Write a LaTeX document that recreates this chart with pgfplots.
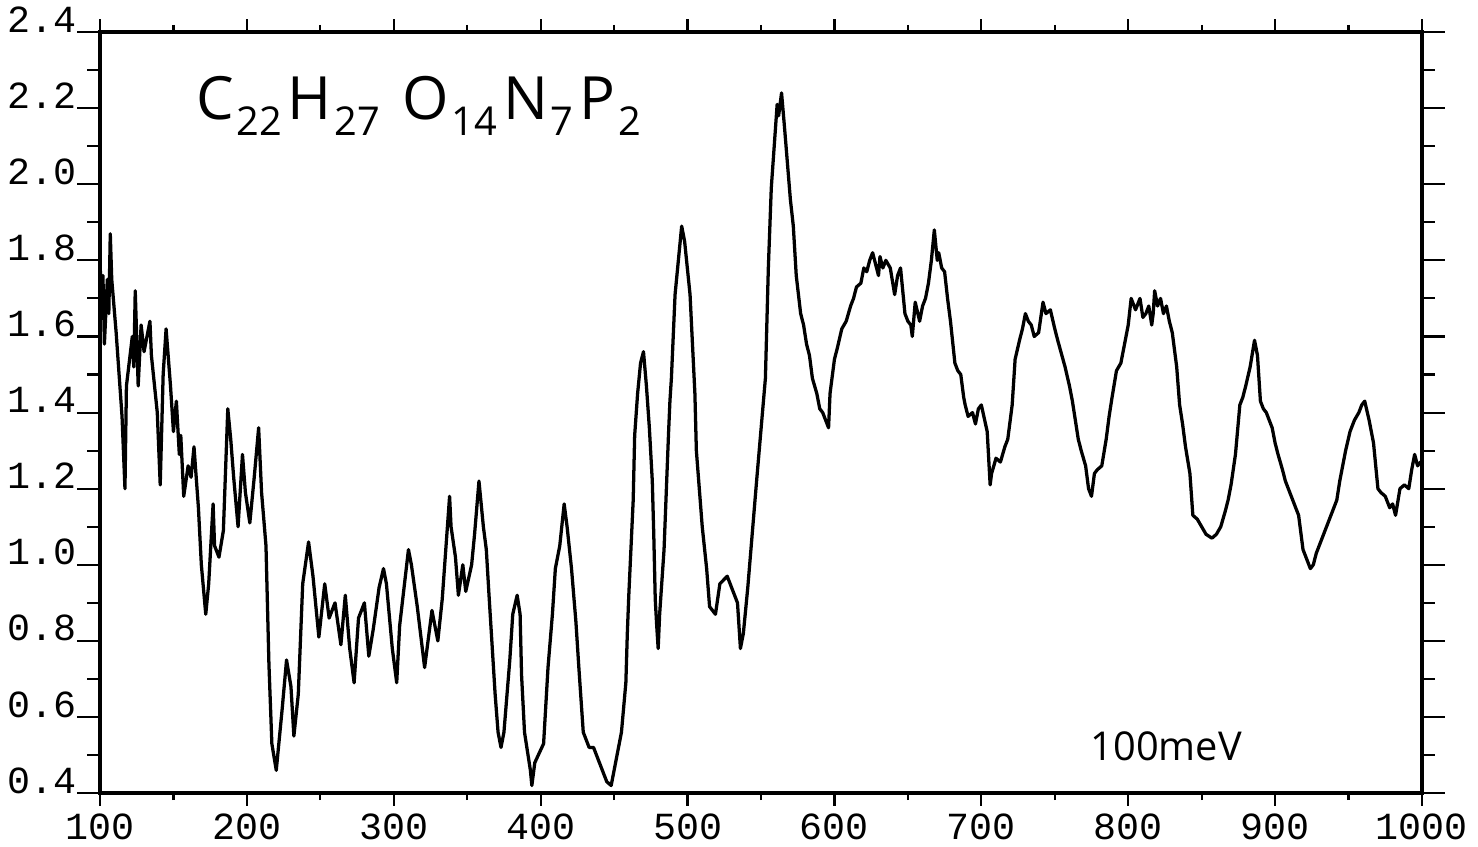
\documentclass[border=0pt]{standalone}
\usepackage{fontspec}
\setmainfont{Open Sans}
\setmonofont{Liberation Mono}
\usepackage{pgfplots}
\pgfplotsset{compat=1.18}
\newcommand{\sub}[1]{\raisebox{-0.5ex}{\fontsize{14}{14}\selectfont #1}}
\pgfplotsset{base/.style={scale only axis, width=465.5pt, height=268pt,
  xmin=100, xmax=1000, ymin=0.4, ymax=2.4, tick align=outside,
  every tick/.style={black, line width=0.75pt},
  ticklabel style={font=\ttfamily\fontsize{13.5}{16}\selectfont}}}
\begin{document}
\begin{tikzpicture}
\begin{axis}[base, name=ax,
  xtick=\empty,
  ytick={0.4,0.6,0.8,1.0,1.2,1.4,1.6,1.8,2.0,2.2,2.4},
  yticklabels={0.4,0.6,0.8,1.0,1.2,1.4,1.6,1.8,2.0,2.2,2.4},
  minor ytick={0.5,0.7,0.9,1.1,1.3,1.5,1.7,1.9,2.1,2.3},
  major tick length=8pt, minor tick length=4.5pt,
  axis line style={line width=1.2pt},
  yticklabel style={anchor=base east, inner sep=0pt},
]
\addplot[black, line width=1.15pt, line join=round] coordinates {
(100,1.80)(101,1.69)(102,1.76)(103,1.58)(105,1.75)(106,1.66)(107,1.87)(108,1.75)(111,1.61)(115,1.39)(117,1.20)(118,1.47)
(122,1.60)(123,1.52)(124,1.72)(126,1.47)(128,1.63)(130,1.56)(132,1.60)(134,1.64)(135,1.55)(139,1.40)(141,1.21)(143,1.50)
(145,1.62)(148,1.47)(150,1.35)(152,1.43)(154,1.29)(155,1.34)(157,1.18)(160,1.26)(162,1.23)(164,1.31)(167,1.15)
(169,1.00)(172,0.87)(174,0.95)(177,1.16)(178,1.05)(181,1.02)(184,1.09)(187,1.41)(189,1.33)(191,1.23)
(194,1.10)(197,1.29)(199,1.19)(202,1.11)(205,1.23)(208,1.36)(210,1.19)(213,1.05)(215,0.74)(217,0.53)
(220,0.46)(224,0.62)(227,0.75)(230,0.68)(232,0.55)(235,0.66)(238,0.95)(242,1.06)(245,0.97)(249,0.81)
(253,0.95)(256,0.86)(260,0.90)(264,0.79)(267,0.92)(270,0.78)(273,0.69)(276,0.86)(280,0.90)(283,0.76)
(286,0.83)(290,0.94)(293,0.99)(295,0.95)(299,0.78)(302,0.69)(304,0.84)(310,1.04)(312,1.00)(316,0.89)
(321,0.73)(326,0.88)(330,0.80)(333,0.91)(338,1.18)(339,1.10)(342,1.02)(344,0.92)(347,1.00)(349,0.93)
(353,1.00)(355,1.08)(358,1.22)(361,1.10)(363,1.04)(365,0.91)(369,0.66)(371,0.56)(373,0.52)(375,0.56)
(379,0.75)(381,0.87)(384,0.92)(386,0.87)(387,0.71)(389,0.56)(393,0.46)(394,0.42)(396,0.48)(402,0.53)
(405,0.73)(408,0.87)(410,0.99)(413,1.05)(416,1.16)(418,1.10)(421,0.99)(424,0.85)(426,0.73)(429,0.56)
(433,0.52)(436,0.52)(439,0.49)(442,0.46)(445,0.43)(448,0.42)(451,0.48)(455,0.56)(458,0.69)(459,0.82)
(460,0.92)(463,1.17)(464,1.34)(466,1.45)(468,1.53)(470,1.56)(472,1.47)(474,1.36)(476,1.22)(477,1.08)
(478,0.91)(479,0.84)(480,0.78)(481,0.87)(484,1.04)(486,1.24)(487,1.34)(488,1.43)(489,1.49)(491.5,1.71)
(496,1.89)(498,1.85)(501.7,1.71)(505,1.45)(506,1.30)(510,1.10)(513,0.99)(515,0.89)(519,0.87)(522,0.95)
(527,0.97)(530,0.94)(534,0.90)(536,0.78)(538,0.82)(541,0.94)(544,1.08)(547,1.22)(549,1.31)(553,1.49)
(555,1.78)(557,1.99)(561,2.21)(562,2.18)(564,2.24)(566,2.15)(570,1.96)(572,1.89)(574,1.76)(577,1.66)
(579,1.63)(581,1.58)(583,1.55)(585,1.49)(588,1.45)(590,1.41)(592,1.40)(594,1.38)(596,1.36)(597,1.45)(600,1.54)(602,1.57)(605,1.62)(608,1.64)(611,1.68)(613,1.70)(615,1.73)
(618,1.74)(620,1.78)(622,1.77)(624,1.80)(626,1.82)(628,1.79)(630,1.76)(631,1.81)(633,1.78)(635,1.80)(638,1.78)(641,1.71)(643,1.76)(645,1.78)(648,1.66)(650,1.64)(652,1.63)
(653,1.60)(655,1.69)(658,1.64)(660,1.68)(662,1.70)(664,1.74)(666,1.80)(668,1.88)(670,1.80)(671,1.82)(673,1.78)(675,1.77)(677,1.70)(679,1.64)(682,1.53)
(684,1.51)(686,1.50)(688,1.44)(689,1.42)(691,1.39)(694,1.40)(696,1.37)(698,1.41)(700,1.42)(704,1.35)(706,1.21)(707,1.24)(710,1.28)(713,1.27)(716,1.31)
(718,1.33)(721,1.42)(723,1.54)(726,1.59)(728,1.62)(730,1.66)(732,1.64)(734,1.63)(736,1.60)(739,1.61)(742,1.69)(744,1.66)(747,1.67)(750,1.62)(752,1.59)(757,1.52)
(760,1.47)(762,1.43)(764,1.38)(766,1.33)(768,1.30)(771,1.26)(773,1.20)(775,1.18)(777,1.24)(779,1.25)(782,1.26)(785,1.33)(787,1.39)(789,1.44)(792,1.51)
(795,1.53)(797,1.57)(800,1.63)(802,1.70)(805,1.67)(808,1.70)(810,1.65)(812,1.66)(814,1.68)(816,1.63)(817,1.66)(818,1.72)(820,1.68)(822,1.70)(824,1.66)(826,1.68)
(828,1.64)(830,1.61)(833,1.52)(835,1.42)(837,1.37)(839,1.31)(842,1.24)(844,1.13)(847,1.12)(850,1.10)(853,1.08)(857,1.07)(860,1.08)(863,1.10)(866,1.14)
(868,1.17)(870,1.21)(873,1.29)(876,1.42)(878,1.44)(880,1.47)(883,1.52)(886,1.59)(888,1.55)(890,1.43)(892,1.41)(894,1.40)(898,1.36)
(900,1.32)(902,1.29)(905,1.25)(907,1.22)(910,1.19)(912,1.17)(916,1.13)(919,1.04)(921,1.02)(924,0.99)(926,1.00)(928,1.03)(931,1.06)(933,1.08)(935,1.10)(937,1.12)(940,1.15)(942,1.17)
(944,1.22)(946,1.26)(948,1.30)(951,1.35)(954,1.38)(957,1.40)(959,1.42)(961,1.43)(964,1.38)(967,1.32)(970,1.20)(972,1.19)(975,1.18)(978,1.15)(980,1.16)(982,1.13)
(985,1.20)(988,1.21)(991,1.20)(993,1.25)(995,1.29)(997,1.26)(999,1.27)(1000,1.27)
};
\node[anchor=base west, inner sep=0pt, font=\fontsize{21}{21}\selectfont] at (axis cs:165,2.17)
  {C\hspace{1pt}\sub{22}\hspace{2pt}H\hspace{1pt}\sub{27}\hspace{8pt}O\hspace{1pt}\sub{14}\hspace{2pt}N\hspace{1pt}\sub{7}\hspace{2pt}P\hspace{1pt}\sub{2}};
\node[anchor=base west, inner sep=0pt, font=\fontsize{14}{14}\selectfont] at (axis cs:774,0.487) {100meV};
\end{axis}
\begin{axis}[base,
  ytick=\empty,
  xtick={100,200,300,400,500,600,700,800,900,1000},
  xticklabels={100,200,300,400,500,600,700,800,900,1000},
  minor xtick={150,250,350,450,550,650,750,850,950},
  major tick length=4.5pt, minor tick length=2.5pt,
  axis line style={draw=none},
  xticklabel style={inner sep=0pt, yshift=-2.5pt},
]
\end{axis}
\pgfresetboundingbox
\path[use as bounding box] ([shift={(-35.21pt,-18.66pt)}]ax.south west) rectangle ([shift={(19.72pt,11.27pt)}]ax.north east);
\end{tikzpicture}
\end{document}
